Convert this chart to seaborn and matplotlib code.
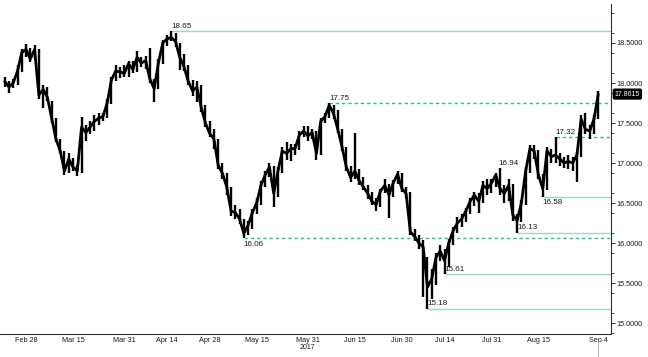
"""Price chart with support/resistance levels, 2017."""

import matplotlib
matplotlib.use("Agg")
import matplotlib.pyplot as plt
import matplotlib.transforms as mtransforms
import pandas as pd
import seaborn as sns

# daily bars, first bar on 2017-02-21, business days
first_day = "2017-02-21"
close = [
    18.02, 17.95, 18.00, 18.15, 18.38, 18.42, 18.30, 18.42, 17.85, 17.92,
    17.82, 17.56, 17.30, 17.15, 16.90, 17.05, 16.95, 16.90, 17.45, 17.38,
    17.45, 17.52, 17.56, 17.58, 17.75, 18.04, 18.15, 18.14, 18.12, 18.24,
    18.17, 18.32, 18.25, 18.28, 18.05, 17.93, 18.25, 18.50, 18.55, 18.57,
    18.52, 18.32, 18.20, 18.02, 17.90, 17.95, 17.70, 17.50, 17.37, 17.30,
    16.97, 16.87, 16.70, 16.40, 16.38, 16.30, 16.12, 16.22, 16.38, 16.50,
    16.72, 16.85, 16.95, 16.62, 16.90, 17.15, 17.12, 17.18, 17.18, 17.35,
    17.40, 17.34, 17.38, 17.12, 17.52, 17.58, 17.72, 17.62, 17.42, 17.20,
    16.95, 16.82, 16.90, 16.78, 16.70, 16.62, 16.52, 16.48, 16.65, 16.72,
    16.60, 16.75, 16.86, 16.68, 16.62, 16.14, 16.08, 16.00, 15.95, 15.45,
    15.55, 15.82, 15.90, 15.78, 16.00, 16.15, 16.25, 16.30, 16.40, 16.52,
    16.60, 16.52, 16.72, 16.68, 16.75, 16.85, 16.68, 16.62, 16.72, 16.35,
    16.28, 16.50, 16.90, 17.18, 17.15, 16.85, 16.68, 17.15, 17.08, 17.10,
    17.05, 17.00, 17.02, 17.00, 17.10, 17.55, 17.42, 17.40, 17.55, 17.86,
]
high = [
    18.08, 18.03, 18.05, 18.22, 18.42, 18.49, 18.44, 18.48, 18.42, 17.98,
    17.95, 17.78, 17.56, 17.30, 17.15, 17.12, 17.06, 16.98, 17.58, 17.48,
    17.52, 17.60, 17.62, 17.63, 17.80, 18.08, 18.22, 18.20, 18.22, 18.28,
    18.27, 18.40, 18.33, 18.34, 18.44, 18.05, 18.30, 18.54, 18.60, 18.65,
    18.62, 18.50, 18.36, 18.22, 18.04, 18.02, 17.98, 17.72, 17.52, 17.42,
    17.30, 17.00, 16.88, 16.70, 16.47, 16.42, 16.30, 16.28, 16.42, 16.56,
    16.78, 16.90, 17.00, 16.96, 16.95, 17.20, 17.26, 17.24, 17.24, 17.40,
    17.46, 17.46, 17.43, 17.40, 17.56, 17.63, 17.75, 17.72, 17.66, 17.42,
    17.20, 16.96, 17.37, 16.92, 16.82, 16.72, 16.64, 16.56, 16.68, 16.80,
    16.74, 16.79, 16.90, 16.88, 16.70, 16.64, 16.18, 16.10, 16.04, 15.82,
    15.68, 15.88, 15.98, 15.92, 16.05, 16.20, 16.32, 16.36, 16.44, 16.56,
    16.64, 16.62, 16.78, 16.80, 16.80, 16.88, 16.94, 16.72, 16.80, 16.74,
    16.36, 16.54, 16.95, 17.22, 17.22, 17.16, 16.86, 17.20, 17.18, 17.32,
    17.12, 17.08, 17.10, 17.08, 17.14, 17.60, 17.62, 17.48, 17.60, 17.90,
]
low = [
    17.95, 17.87, 17.94, 17.98, 18.14, 18.33, 18.26, 18.30, 17.80, 17.69,
    17.78, 17.50, 17.26, 17.12, 16.85, 16.88, 16.90, 16.84, 16.88, 17.28,
    17.36, 17.40, 17.48, 17.52, 17.56, 17.74, 18.02, 18.06, 18.08, 18.08,
    18.12, 18.14, 18.20, 18.18, 18.00, 17.76, 17.92, 18.24, 18.46, 18.52,
    18.45, 18.16, 18.15, 17.98, 17.84, 17.76, 17.64, 17.45, 17.32, 17.18,
    16.92, 16.80, 16.60, 16.34, 16.30, 16.24, 16.06, 16.10, 16.18, 16.36,
    16.48, 16.70, 16.82, 16.45, 16.58, 16.88, 17.04, 17.02, 17.10, 17.16,
    17.32, 17.28, 17.30, 17.04, 17.10, 17.50, 17.56, 17.55, 17.38, 17.15,
    16.90, 16.76, 16.80, 16.72, 16.66, 16.55, 16.48, 16.40, 16.45, 16.62,
    16.31, 16.58, 16.74, 16.64, 16.56, 16.10, 16.02, 15.92, 15.32, 15.18,
    15.30, 15.48, 15.78, 15.61, 15.70, 15.98, 16.12, 16.20, 16.26, 16.36,
    16.46, 16.37, 16.50, 16.60, 16.62, 16.70, 16.60, 16.50, 16.52, 16.28,
    16.13, 16.26, 16.48, 16.88, 17.05, 16.80, 16.58, 16.66, 17.00, 17.00,
    16.96, 16.94, 16.92, 16.90, 16.76, 17.08, 17.36, 17.30, 17.36, 17.55,
]

level_values = [18.65, 17.75, 17.32, 16.58, 16.13, 16.06, 15.61, 15.18]
level_dates = ["2017-04-17", "2017-06-07", "2017-08-21", "2017-08-16",
               "2017-08-08", "2017-05-10", "2017-07-14", "2017-07-10"]
level_dashed = [False, True, True, False, False, True, False, False]
level_text_below = [False, False, False, True, False, True, False, False]

spike_value = 16.94
spike_date = "2017-08-02"
last_price = 17.8615

tick_dates = ["2017-02-28", "2017-03-15", "2017-03-31", "2017-04-14", "2017-04-28",
              "2017-05-15", "2017-05-31", "2017-06-15", "2017-06-30", "2017-07-14",
              "2017-07-31", "2017-08-15", "2017-09-04"]
tick_labels = ["Feb 28", "Mar 15", "Mar 31", "Apr 14", "Apr 28", "May 15", "May 31",
               "Jun 15", "Jun 30", "Jul 14", "Jul 31", "Aug 15", "Sep 4"]
minor_dates = ["2017-02-22", "2017-03-08", "2017-03-23", "2017-04-07", "2017-04-21",
               "2017-05-08", "2017-05-23", "2017-06-07", "2017-06-22", "2017-07-07",
               "2017-07-21", "2017-08-07", "2017-08-23"]
year_label = "2017"

SOLID = "#9ed8bb"
DASHED = "#2fc585"

sns.set_style("white")
plt.rcParams["font.family"] = ["Liberation Sans", "DejaVu Sans"]

cal = pd.bdate_range("2017-02-20", "2017-09-15")


def pos(dates):
    return cal.get_indexer(pd.to_datetime(dates))


df = pd.DataFrame({
    "date": pd.bdate_range(first_day, periods=len(close)),
    "close": close,
    "high": high,
    "low": low,
})
df["x"] = pos(df["date"])

fig = plt.figure(figsize=(6.48, 3.57), dpi=100)
ax = fig.add_axes([0.0, 0.0644, 0.943, 0.9244])
x_right = 143.0

# levels
for val, d, dashed, below in zip(level_values, level_dates, level_dashed, level_text_below):
    x0 = pos([d])[0]
    ax.hlines(val, x0, x_right, color=DASHED if dashed else SOLID,
              lw=1.0, linestyles=(0, (2.5, 2)) if dashed else "solid", zorder=1)
    ax.text(x0, val + (-0.03 if below else 0.015), f"{val:.2f}", fontsize=5.8,
            ha="left", va="top" if below else "bottom", color="#1a1a1a", zorder=4)

ax.text(pos([spike_date])[0] - 0.3, spike_value + 0.015, f"{spike_value:.2f}",
        fontsize=5.8, ha="left", va="bottom", color="#1a1a1a", zorder=4)

# price bars
ax.vlines(df["x"], df["low"], df["high"], color="black", lw=1.7, zorder=3)
sns.lineplot(data=df, x="x", y="close", ax=ax, color="black", lw=2.0, zorder=3)

ax.set_xlim(-0.1, x_right)
ax.set_ylim(14.8625, 18.9875)
ax.set_xlabel("")
ax.set_ylabel("")

for side in ["top", "left"]:
    ax.spines[side].set_visible(False)
for side in ["right", "bottom"]:
    ax.spines[side].set_color("#333333")
    ax.spines[side].set_linewidth(0.8)

ax.yaxis.tick_right()
ax.set_yticks([15.0, 15.5, 16.0, 16.5, 17.0, 17.5, 18.0, 18.5])
ax.set_yticklabels([f"{v:.4f}" for v in ax.get_yticks()])
ax.set_yticks([14.875 + 0.25 * k for k in range(17) if (14.875 + 0.25 * k) % 0.5], minor=True)
ax.tick_params(axis="y", which="major", direction="out", length=3, width=0.7,
               labelsize=5.2, pad=1, colors="#333333", labelcolor="#1a1a1a")
ax.tick_params(axis="y", which="minor", direction="out", length=2, width=0.6, colors="#333333")

ax.set_xticks(pos(tick_dates))
ax.set_xticklabels(tick_labels)
ax.set_xticks(pos(minor_dates), minor=True)
ax.tick_params(axis="x", which="major", direction="inout", length=3, width=0.7,
               labelsize=5.2, pad=0.5, colors="#333333", labelcolor="#1a1a1a")
ax.tick_params(axis="x", which="minor", direction="inout", length=2, width=0.6, colors="#333333")

blend = mtransforms.blended_transform_factory(ax.transData, ax.transAxes)
ax.text(pos(["2017-05-31"])[0], -0.03, year_label, transform=blend, fontsize=5,
        ha="center", va="top", color="#1a1a1a")
ax.plot([pos(["2017-09-04"])[0]] * 2, [-0.025, -0.08], transform=blend,
        color="#bbbbbb", lw=0.8, clip_on=False)

ylab = mtransforms.blended_transform_factory(ax.transAxes, ax.transData)
ax.text(1.006, last_price, f"{last_price:.4f}", transform=ylab, fontsize=5,
        color="white", ha="left", va="center",
        bbox=dict(boxstyle="round,pad=0.2", fc="black", ec="black"))

fig.savefig("out.png", dpi=100)
